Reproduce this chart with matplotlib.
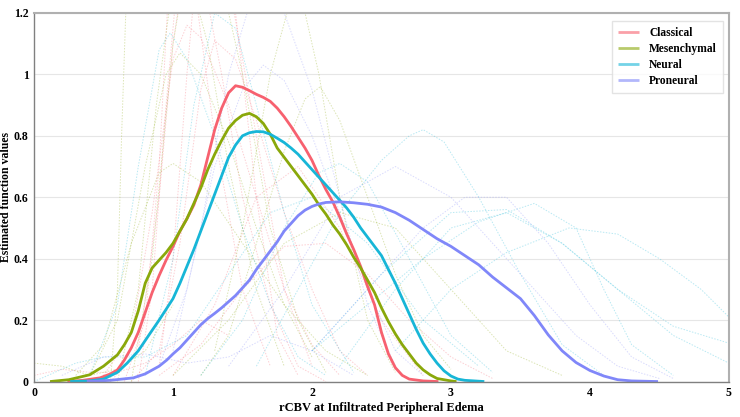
import numpy as np
import matplotlib; matplotlib.use('Agg'); import matplotlib.pyplot as plt

plt.rcParams['font.family'] = ['Liberation Serif', 'DejaVu Serif']
plt.rcParams['font.weight'] = 'bold'

# main group curves
groups = ['Classical', 'Mesenchymal', 'Neural', 'Proneural']
colors = ['#F7616F', '#8AA80A', '#17B6D7', '#8087F9']

cls_x = [0.24, 0.35, 0.475, 0.55, 0.6, 0.65, 0.7, 0.75, 0.8, 0.85, 0.9, 0.95, 1.0, 1.05, 1.1, 1.15, 1.2, 1.25, 1.3, 1.35, 1.4, 1.45, 1.5, 1.55, 1.6, 1.65, 1.7, 1.75, 1.8, 1.85, 1.9, 1.95, 2.0, 2.05, 2.1, 2.15, 2.2, 2.25, 2.3, 2.35, 2.4, 2.45, 2.5, 2.55, 2.6, 2.65, 2.7, 2.8, 2.91]
cls_y = [0.0, 0.004, 0.012, 0.025, 0.038, 0.07, 0.11, 0.16, 0.225, 0.29, 0.345, 0.395, 0.44, 0.49, 0.53, 0.575, 0.64, 0.73, 0.82, 0.89, 0.94, 0.963, 0.958, 0.947, 0.935, 0.925, 0.912, 0.89, 0.862, 0.83, 0.795, 0.76, 0.72, 0.67, 0.625, 0.585, 0.535, 0.48, 0.43, 0.375, 0.31, 0.25, 0.16, 0.09, 0.045, 0.02, 0.008, 0.002, 0.0]
mes_x = [0.115, 0.25, 0.4, 0.5, 0.6, 0.65, 0.7, 0.75, 0.8, 0.85, 0.9, 0.95, 1.0, 1.05, 1.1, 1.15, 1.2, 1.25, 1.3, 1.35, 1.4, 1.45, 1.5, 1.55, 1.6, 1.65, 1.7, 1.75, 1.8, 1.85, 1.9, 1.95, 2.0, 2.05, 2.1, 2.15, 2.2, 2.25, 2.3, 2.35, 2.4, 2.45, 2.5, 2.55, 2.6, 2.65, 2.7, 2.75, 2.8, 2.85, 2.9, 3.0, 3.04]
mes_y = [0.0, 0.006, 0.022, 0.05, 0.087, 0.12, 0.16, 0.23, 0.32, 0.37, 0.395, 0.42, 0.45, 0.49, 0.53, 0.58, 0.63, 0.69, 0.74, 0.785, 0.825, 0.85, 0.867, 0.873, 0.862, 0.84, 0.805, 0.76, 0.73, 0.70, 0.67, 0.64, 0.61, 0.575, 0.545, 0.51, 0.48, 0.445, 0.405, 0.37, 0.33, 0.29, 0.24, 0.195, 0.155, 0.12, 0.09, 0.06, 0.038, 0.022, 0.01, 0.002, 0.0]
neu_x = [0.26, 0.4, 0.5, 0.6, 0.67, 0.75, 0.835, 0.9, 0.95, 1.0, 1.05, 1.1, 1.15, 1.2, 1.25, 1.3, 1.35, 1.4, 1.45, 1.5, 1.55, 1.6, 1.65, 1.7, 1.75, 1.8, 1.85, 1.9, 1.95, 2.0, 2.05, 2.1, 2.15, 2.2, 2.25, 2.3, 2.35, 2.4, 2.45, 2.5, 2.55, 2.6, 2.65, 2.7, 2.75, 2.8, 2.85, 2.9, 2.95, 3.0, 3.05, 3.1, 3.24]
neu_y = [0.0, 0.002, 0.008, 0.03, 0.06, 0.1, 0.157, 0.2, 0.235, 0.27, 0.32, 0.375, 0.43, 0.49, 0.55, 0.61, 0.67, 0.73, 0.77, 0.80, 0.81, 0.814, 0.813, 0.805, 0.792, 0.778, 0.76, 0.74, 0.715, 0.69, 0.665, 0.64, 0.615, 0.59, 0.565, 0.535, 0.5, 0.47, 0.44, 0.41, 0.365, 0.32, 0.27, 0.22, 0.17, 0.125, 0.09, 0.06, 0.035, 0.018, 0.008, 0.004, 0.0]
pro_x = [0.38, 0.55, 0.715, 0.8, 0.9, 0.955, 1.0, 1.05, 1.1, 1.15, 1.2, 1.25, 1.3, 1.35, 1.4, 1.45, 1.5, 1.55, 1.6, 1.65, 1.7, 1.75, 1.8, 1.85, 1.9, 1.95, 2.0, 2.05, 2.1, 2.2, 2.3, 2.4, 2.5, 2.6, 2.7, 2.8, 2.9, 3.0, 3.1, 3.2, 3.3, 3.4, 3.5, 3.6, 3.7, 3.8, 3.9, 4.0, 4.1, 4.2, 4.3, 4.49]
pro_y = [0.0, 0.004, 0.012, 0.025, 0.05, 0.07, 0.09, 0.11, 0.135, 0.16, 0.185, 0.205, 0.222, 0.24, 0.26, 0.28, 0.305, 0.33, 0.365, 0.395, 0.425, 0.455, 0.49, 0.515, 0.54, 0.558, 0.57, 0.578, 0.583, 0.585, 0.582, 0.577, 0.568, 0.55, 0.525, 0.495, 0.465, 0.44, 0.41, 0.38, 0.34, 0.305, 0.27, 0.215, 0.152, 0.1, 0.062, 0.036, 0.018, 0.006, 0.002, 0.0]
main_x = [cls_x, mes_x, neu_x, pro_x]
main_y = [cls_y, mes_y, neu_y, pro_y]

# faint per-patient curves (group index, x, y)
faint = [
    (0, [0.55, 0.75, 0.9, 1.0, 1.1, 1.25, 1.4, 1.6, 1.8, 2.0], [0.0, 0.1, 0.6, 1.1, 1.4, 1.5, 1.3, 0.8, 0.3, 0.05]),
    (0, [0.5, 0.7, 0.85, 1.0, 1.1, 1.2, 1.4, 1.6, 1.8, 2.0, 2.2], [0.02, 0.15, 0.55, 1.05, 1.16, 1.12, 0.9, 0.6, 0.3, 0.12, 0.02]),
    (0, [0.7, 0.9, 1.05, 1.2, 1.3, 1.45, 1.6, 1.8, 2.0, 2.2, 2.4], [0.0, 0.1, 0.45, 0.95, 1.11, 1.05, 0.85, 0.55, 0.3, 0.1, 0.02]),
    (0, [0.9, 1.2, 1.5, 1.8, 2.1, 2.4, 2.7, 3.0, 3.3], [0.02, 0.12, 0.3, 0.44, 0.45, 0.35, 0.2, 0.08, 0.01]),
    (0, [0.9, 1.0, 1.1, 1.2, 1.3, 1.45, 1.6, 1.75, 1.9], [0.05, 0.4, 1.0, 1.5, 1.6, 1.2, 0.6, 0.15, 0.02]),
    (0, [0.0, 0.2, 0.4, 0.6, 0.8, 1.0, 1.2, 1.4], [0.02, 0.04, 0.03, 0.03, 0.06, 0.12, 0.2, 0.15]),
    (0, [0.75, 0.85, 0.95, 1.05, 1.2, 1.35, 1.5, 1.7, 1.9, 2.1], [0.0, 0.3, 0.9, 1.4, 1.35, 1.0, 0.6, 0.25, 0.05, 0.0]),
    (0, [1.0, 1.3, 1.6, 1.9, 2.2, 2.5, 2.8], [0.02, 0.25, 0.6, 0.7, 0.5, 0.2, 0.02]),
    (0, [0.65, 0.8, 0.9, 0.97, 1.05, 1.15, 1.3, 1.5, 1.7], [0.0, 0.2, 0.7, 1.3, 1.5, 1.3, 0.8, 0.3, 0.05]),
    (1, [0.55, 0.6, 0.63, 0.66, 0.7, 0.8], [0.0, 0.3, 0.8, 1.2, 1.5, 1.7]),
    (1, [1.2, 1.4, 1.6, 1.8, 1.95, 2.06, 2.2, 2.4, 2.6, 2.8, 3.0], [0.02, 0.15, 0.45, 0.75, 0.92, 0.96, 0.85, 0.6, 0.35, 0.15, 0.04]),
    (1, [0.4, 0.6, 0.8, 0.95, 1.05, 1.2, 1.4, 1.6, 1.8, 2.0], [0.02, 0.2, 0.7, 1.0, 1.07, 1.0, 0.78, 0.5, 0.25, 0.08]),
    (1, [0.7, 0.85, 1.0, 1.15, 1.3, 1.5, 1.7, 1.9, 2.1], [0.0, 0.4, 1.1, 1.5, 1.4, 1.0, 0.5, 0.2, 0.03]),
    (1, [0.3, 0.5, 0.7, 0.9, 1.0, 1.2, 1.5, 1.8, 2.1, 2.4], [0.02, 0.12, 0.45, 0.68, 0.71, 0.65, 0.45, 0.25, 0.1, 0.02]),
    (1, [1.3, 1.5, 1.7, 1.85, 1.95, 2.05, 2.2, 2.4, 2.6], [0.1, 0.5, 1.0, 1.25, 1.2, 1.0, 0.6, 0.2, 0.03]),
    (1, [1.0, 1.4, 1.8, 2.2, 2.6, 3.0, 3.4, 3.8], [0.02, 0.2, 0.45, 0.55, 0.5, 0.3, 0.1, 0.02]),
    (1, [0.0, 0.2, 0.4, 0.6, 0.8, 1.0], [0.06, 0.05, 0.02, 0.04, 0.1, 0.25]),
    (1, [0.6, 0.75, 0.88, 1.0, 1.1, 1.25, 1.4, 1.6, 1.8], [0.0, 0.3, 0.9, 1.3, 1.35, 1.1, 0.7, 0.3, 0.05]),
    (2, [0.4, 0.6, 0.75, 0.9, 0.98, 1.1, 1.3, 1.5, 1.7, 1.9, 2.1], [0.02, 0.25, 0.7, 1.08, 1.135, 1.05, 0.8, 0.5, 0.25, 0.08, 0.02]),
    (2, [1.6, 1.9, 2.2, 2.5, 2.7, 2.8, 2.95, 3.2, 3.5, 3.8, 4.1], [0.05, 0.3, 0.55, 0.72, 0.8, 0.82, 0.78, 0.6, 0.35, 0.12, 0.02]),
    (2, [2.0, 2.4, 2.8, 3.2, 3.6, 3.9, 4.1, 4.3, 4.6], [0.1, 0.25, 0.4, 0.52, 0.58, 0.5, 0.3, 0.12, 0.02]),
    (2, [2.6, 3.0, 3.4, 3.85, 4.2, 4.5, 4.8, 5.0], [0.1, 0.3, 0.42, 0.5, 0.48, 0.4, 0.3, 0.21]),
    (2, [2.0, 2.5, 3.0, 3.4, 3.8, 4.2, 4.6, 5.0], [0.1, 0.35, 0.55, 0.56, 0.45, 0.3, 0.18, 0.125]),
    (2, [2.2, 2.6, 3.0, 3.4, 3.8, 4.2, 4.6, 5.0], [0.05, 0.3, 0.5, 0.55, 0.45, 0.3, 0.15, 0.06]),
    (2, [0.8, 1.0, 1.15, 1.3, 1.45, 1.6, 1.8, 2.0, 2.3], [0.02, 0.4, 0.9, 1.2, 1.15, 0.9, 0.55, 0.25, 0.03]),
    (2, [1.2, 1.5, 1.8, 2.05, 2.2, 2.4, 2.7, 3.0, 3.3], [0.02, 0.2, 0.5, 0.68, 0.71, 0.65, 0.4, 0.15, 0.03]),
    (2, [0.0, 0.3, 0.5, 0.8, 1.1, 1.4, 1.7, 2.0, 2.4, 2.8, 3.2], [0.0, 0.06, 0.08, 0.08, 0.15, 0.35, 0.55, 0.6, 0.45, 0.2, 0.05]),
    (3, [0.9, 1.1, 1.3, 1.5, 1.65, 1.8, 2.0, 2.2, 2.4, 2.6, 2.8], [0.05, 0.3, 0.7, 0.95, 1.03, 0.98, 0.8, 0.55, 0.3, 0.1, 0.02]),
    (3, [1.0, 1.2, 1.4, 1.6, 1.8, 2.0, 2.2, 2.4, 2.6], [0.1, 0.5, 1.0, 1.3, 1.2, 0.95, 0.6, 0.25, 0.05]),
    (3, [1.4, 1.8, 2.2, 2.6, 3.0, 3.3, 3.6, 3.9, 4.2, 4.5], [0.05, 0.3, 0.6, 0.7, 0.6, 0.45, 0.3, 0.15, 0.05, 0.01]),
    (3, [0.2, 0.5, 0.8, 1.1, 1.4, 1.7, 2.0, 2.3], [0.02, 0.08, 0.09, 0.06, 0.08, 0.15, 0.1, 0.02]),
    (3, [2.0, 2.4, 2.8, 3.1, 3.4, 3.7, 4.0, 4.3, 4.6], [0.1, 0.3, 0.5, 0.6, 0.6, 0.45, 0.25, 0.08, 0.01]),
]

fig = plt.figure(figsize=(7.4, 4.17), dpi=100)
ax = fig.add_axes([0.046, 0.085, 0.939, 0.884])
ax.set_xlim(0, 5); ax.set_ylim(0, 1.2)
ax.set_yticks([0, 0.2, 0.4, 0.6, 0.8, 1, 1.2]); ax.set_yticklabels(['0', '0.2', '0.4', '0.6', '0.8', '1', '1.2'])
ax.set_xticks([0, 1, 2, 3, 4, 5])
ax.grid(axis='y', color='#E6E6E6', lw=0.8); ax.set_axisbelow(True)
ax.tick_params(length=0, labelsize=8.5, pad=4)
for s in ['top', 'right']: ax.spines[s].set_color('#B0B0B0'); ax.spines[s].set_linewidth(1.5)
for s in ['left', 'bottom']: ax.spines[s].set_color('#808080'); ax.spines[s].set_linewidth(1.0)

for g, fx, fy in faint:
    ax.plot(fx, fy, ls=(0, (1.5, 1.5)), lw=0.7, color=colors[g], alpha=0.3)
for g in range(4):
    ax.plot(main_x[g], main_y[g], lw=2, color=colors[g], label=groups[g], solid_capstyle='butt')

ax.set_xlabel('rCBV at Infiltrated Peripheral Edema', fontsize=9, fontweight='bold', labelpad=2)
ax.set_ylabel('Estimated function values', fontsize=8.5, fontweight='bold')
ax.yaxis.set_label_coords(-0.031, 0.5)
leg = ax.legend(loc='upper right', fontsize=8.3, frameon=True, fancybox=False, handlelength=1.8, handletextpad=0.9,
                borderpad=0.5, labelspacing=0.35, borderaxespad=0, bbox_to_anchor=(0.991, 0.978))
leg.get_frame().set_edgecolor('#DDDDDD')
for l in leg.get_lines(): l.set_alpha(0.6)
fig.savefig('out.png', dpi=100, facecolor='white')
